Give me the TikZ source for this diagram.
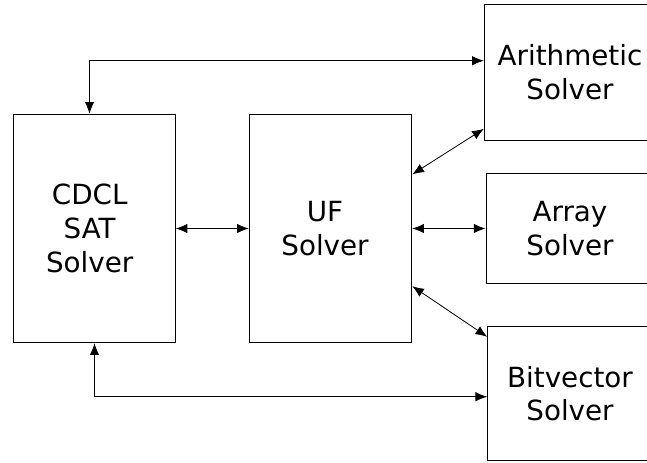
\documentclass[tikz,border=0pt]{standalone}
\usepackage{fontspec}
\setmainfont{DejaVu Sans}
\usepackage{tikz}
\usetikzlibrary{calc}
\usetikzlibrary{arrows.meta}
\newcommand{\solvnode}[7]{\node[draw=black, line width=0.8pt, minimum width=#4, minimum height=#5, inner sep=0pt] (#1) at ( #2 , #3 ) {};
  \node[inner sep=0pt, align=center] (#1txt) at ([xshift=#6]#1.center) {#7};}
\tikzset{link/.style={line width=0.7pt, {Latex[length=10pt,width=8pt]}-{Latex[length=10pt,width=8pt]}}}

\begin{document}
\begin{tikzpicture}[x=0.03cm, y=-0.03cm, font=\fontsize{23.7}{28.8}\selectfont]
        \useasboundingbox (0,0) rectangle (647,462);
        %nodes
        \solvnode{cdcl}{94.2}{228.5}{4.86cm}{6.85cm}{-0.135cm}{CDCL\\SAT\\Solver}
        \solvnode{uf}{330.5}{228.5}{4.875cm}{6.85cm}{-0.165cm}{UF\\Solver}
        \solvnode{arith}{570}{72.2}{5.14cm}{4.07cm}{0cm}{Arithmetic\\Solver}
        \solvnode{array}{570}{228.4}{5.04cm}{3.31cm}{0cm}{Array\\Solver}
        \solvnode{bitv}{570}{393.6}{4.94cm}{4.04cm}{0cm}{Bitvector\\Solver}
        \coordinate (topbend) at (89.5,60.7);
        \coordinate (botbend) at (94.5,396.7);
        %edges
        \draw[link] (cdcl.east) -- (uf.west);
        \draw[link] (uf.east) -- (uf.east -| array.west);
        \draw[link] (cdcl.north -| topbend) -- (topbend) -- (topbend -| arith.west);
        \draw[link] (cdcl.south -| botbend) -- (botbend) -- (botbend -| bitv.west);
        \draw[link] ($(uf.north east)+(0,60.5)$) -- ($(arith.south west)+(0,-11.7)$);
        \draw[link] ($(uf.south east)+(0,-57)$) -- ($(bitv.north west)+(0,11)$);
        \end{tikzpicture}
\end{document}
